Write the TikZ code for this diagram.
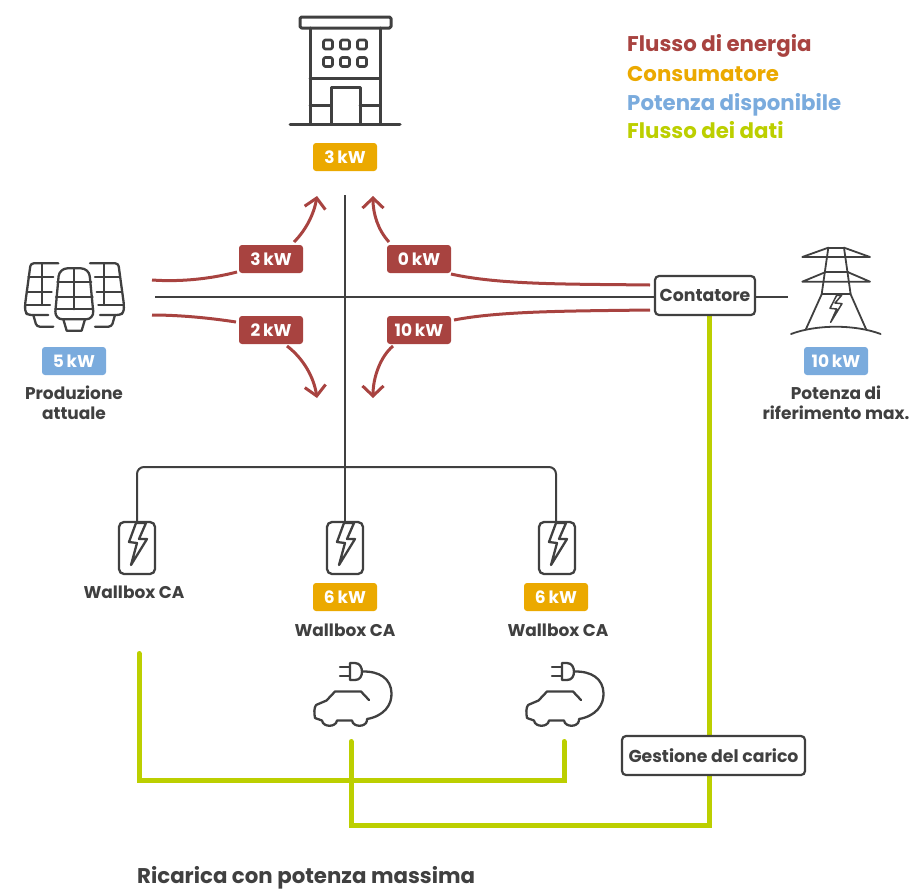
\documentclass[tikz,border=0pt]{standalone}
\usepackage{fontspec}
\setmainfont{Poppins}
\usetikzlibrary{arrows.meta}
\definecolor{flow}{HTML}{A84340}
\definecolor{cons}{HTML}{EBA900}
\definecolor{avail}{HTML}{7AABDD}
\definecolor{data}{HTML}{BCCF00}
\definecolor{ink}{HTML}{404040}
\tikzset{
  badge/.style={fill=#1,rounded corners=3pt,minimum width=64pt,minimum height=28pt,inner sep=0pt,text=white,font=\fontsize{17}{17}\selectfont\bfseries},
  caption/.style={text=ink,align=center,inner sep=0pt,font=\fontsize{17}{20}\selectfont\bfseries},
  legend/.style={anchor=base west,inner sep=0pt,font=\fontsize{21.3}{21.3}\selectfont\bfseries},
  boxnode/.style={draw=ink,line width=2.2pt,fill=white,rounded corners=4pt,inner sep=0pt,text=ink,font=\fontsize{17.3}{17.3}\selectfont\bfseries},
  thin line/.style={draw=ink,line width=2pt},
  icon/.style={draw=ink,line width=2.3pt,line cap=round,line join=round},
  iconb/.style={draw=ink,line width=3pt,line cap=round,line join=round},
  flowline/.style={draw=flow,line width=3pt},
  flowarrow/.style={flowline,-{Straight Barb[length=10pt,width=21pt,line width=3pt]}},
  dataline/.style={draw=data,line width=5pt,line join=miter,line cap=round},
}
\newcommand{\wbicon}[2]{%
  \begin{scope}[shift={(#1,#2)}]
    \draw[icon] (-18,-26) [rounded corners=5pt] -- (18,-26) -- (18,26) -- (-18,26) -- cycle;
    \draw[icon] (9,-25) -- (-1,-25) -- (-8,-6) -- (0,-5) -- (-6,17) -- (10,-9) -- (2,-9) -- cycle;
  \end{scope}}
\newcommand{\caricon}[2]{%
  \begin{scope}[shift={(#1,#2)}]
    \draw[icon] (369,700) -- (361,691.5) -- (335,691.5) -- (326.5,700.5) -- (316,705) .. controls (314,708) and (314,713) .. (315,718) -- (322,720.5)
      .. controls (323,727.5) and (336,727.5) .. (337,720.5) -- (352,720.5) .. controls (353,727.5) and (366,727.5) .. (367,720.5) -- (367,719)
      .. controls (384,716) and (392,705) .. (391.5,693) .. controls (391,679) and (380,671) .. (362,671.5);
    \draw[icon] (350,663) -- (350,680) (350,663) -- (355,663) .. controls (360,663) and (362,668) .. (362,671.5) .. controls (362,676) and (360,680) .. (355,680) -- (350,680);
    \draw[icon] (340,667) -- (350,667) (340,676) -- (350,676);
  \end{scope}}
\begin{document}
\begin{tikzpicture}[x=1pt,y=-1pt]
\useasboundingbox (0,0) rectangle (909,889);
% main lines
\coordinate (solarEnd) at (155,297);
\coordinate (towerEnd) at (788,297);
\coordinate (busTop) at (345,195);
\coordinate (busBottom) at (345,522);
\coordinate (hub) at (345,297);
\coordinate (fl) at (137,522);
\coordinate (fr) at (556,522);
\draw[thin line] (solarEnd) -- (towerEnd);
\draw[thin line] (busTop) -- (busBottom);
\draw[thin line,rounded corners=7pt] (fl) -- (137,467) -- (556,467) -- (fr);
% green
\coordinate (g1) at (139,653.5);
\coordinate (g2) at (564,741.5);
\coordinate (g3) at (351,741.5);
\coordinate (g4) at (709,315);
\draw[dataline] (g1) -- (139,780) -- (564,780) -- (g2);
\draw[dataline] (g3) -- (351,825) -- (709,825) -- (g4);
% boxes
\node[boxnode,minimum width=100pt,minimum height=39pt] (meter) at (705,295.5) {Contatore};
\node[boxnode,minimum width=183pt,minimum height=39pt] (load) at (713.5,755.5) {Gestione del carico};
% flow badges
\node[badge=flow] (f3) at (271,259) {3\,kW};
\node[badge=flow] (f0) at (419,259) {0\,kW};
\node[badge=flow] (f2) at (271,330) {2\,kW};
\node[badge=flow] (f10) at (419,330) {10\,kW};
\coordinate (s1) at (152,280);
\coordinate (s2) at (152,315);
\coordinate (m1) at (650,285);
\coordinate (m2) at (650,310);
\draw[flowline] (s1) .. controls (180,282) and (210,279) .. (237,272);
\draw[flowline] (s2) .. controls (180,315) and (210,318) .. (236,322);
\draw[flowline] (m1) .. controls (570,284) and (500,285) .. (451,274);
\draw[flowline] (m2) .. controls (570,311) and (500,311) .. (454,320);
\draw[flowarrow] (294,242) .. controls (306,230) and (314,214) .. (317,196);
\draw[flowarrow] (389,242) .. controls (378,230) and (373,214) .. (373,196);
\draw[flowarrow] (287,346) .. controls (304,359) and (314,378) .. (317,398);
\draw[flowarrow] (393,346) .. controls (380,357) and (373,378) .. (373,398);
% building
\begin{scope}
\draw[iconb,rounded corners=1.5pt] (300,17) rectangle (391,28);
\draw[iconb] (310,28) -- (310,124) (380,28) -- (380,124);
\draw[iconb] (310,78) -- (380,78);
\draw[iconb] (290,124) -- (400,124);
\draw[iconb] (331,124) -- (331,87) -- (360,87) -- (360,124);
\draw[iconb] (310,105) -- (331,105) (360,105) -- (380,105);
\foreach \x in {323.5,340.5,357.5} \foreach \y in {40,57.5}
  \draw[iconb,line width=2.6pt,rounded corners=1.5pt] (\x,\y) rectangle ++(9,9);
\end{scope}
\node[badge=cons] (bBuilding) at (345,157) {3\,kW};
% solar
\begin{scope}[shift={(0,240)},x=0.3333pt,y=-0.3333pt]
\draw[icon,rounded corners=3pt] (175,70) -- (92,70) -- (75,195) -- (76,218) -- (85,225) -- (145,225);
\draw[icon] (85,110) -- (160,110) (80,155) -- (155,155) (78,195) -- (150,195) (125,70) -- (125,195);
\draw[icon,rounded corners=3pt] (100,225) -- (110,260) -- (160,260);
\draw[icon,rounded corners=8pt] (178,85) -- (267,85) -- (282,238) -- (164,238) -- cycle;
\draw[icon] (172,125) -- (274,125) (168,170) -- (278,170) (166,208) -- (280,208) (222,85) -- (222,208);
\draw[icon] (190,238) -- (200,272) -- (245,272) -- (255,238);
\draw[icon,rounded corners=3pt] (270,70) -- (355,70) -- (372,195) -- (371,218) -- (360,225) -- (300,225);
\draw[icon] (285,110) -- (360,110) (290,155) -- (365,155) (295,195) -- (370,195) (312,70) -- (312,195);
\draw[icon,rounded corners=3pt] (345,225) -- (335,260) -- (285,260);
\end{scope}
\node[badge=avail] (bSolar) at (74,361) {5\,kW};
\node[caption] (cSolar) at (74,403) {Produzione\\attuale};
% tower
\begin{scope}[shift={(640,235)},x=0.3333pt,y=-0.3333pt]
\draw[icon,line width=1.8pt] (565,38) -- (612,38);
\draw[icon,line width=1.8pt] (565,38) -- (487,66) -- (690,66) -- (612,38);
\draw[icon,line width=1.8pt] (555,112) -- (487,140) -- (690,140) -- (625,112);
\draw[icon,line width=1.8pt] (565,38) -- (545,178) -- (498,282);
\draw[icon,line width=1.8pt] (612,38) -- (632,178) -- (678,282);
\draw[icon,line width=1.8pt] (555,112) -- (625,112) (545,178) -- (632,178);
\draw[icon,line width=1.8pt] (453,297) .. controls (530,268) and (645,268) .. (722,297);
\draw[icon,line width=1.5pt] (590,181) -- (570,220) -- (590,222) -- (572,262) -- (606,206) -- (585,204) -- (605,181) -- cycle;
\end{scope}
\node[badge=avail] (bTower) at (836,361) {10\,kW};
\node[caption] (cTower) at (836,403) {Potenza di\\riferimento max.};
% wallboxes
\wbicon{137}{548}
\wbicon{345}{548}
\wbicon{557}{548}
\node[caption] (w1) at (134,592) {Wallbox CA};
\node[badge=cons] (b6a) at (345,597) {6\,kW};
\node[badge=cons] (b6b) at (556,597) {6\,kW};
\node[caption] (w2) at (345,630) {Wallbox CA};
\node[caption] (w3) at (558,630) {Wallbox CA};
\caricon{0}{0}
\caricon{212}{0}
% legend
\node[legend,text=flow] (l1) at (627,51) {Flusso di energia};
\node[legend,text=cons] (l2) at (627,81) {Consumatore};
\node[legend,text=avail] (l3) at (627,110) {Potenza disponibile};
\node[legend,text=data] (l4) at (627,138) {Flusso dei dati};
\node[legend,text=ink] (title) at (137,883) {Ricarica con potenza massima};
\end{tikzpicture}
\end{document}
